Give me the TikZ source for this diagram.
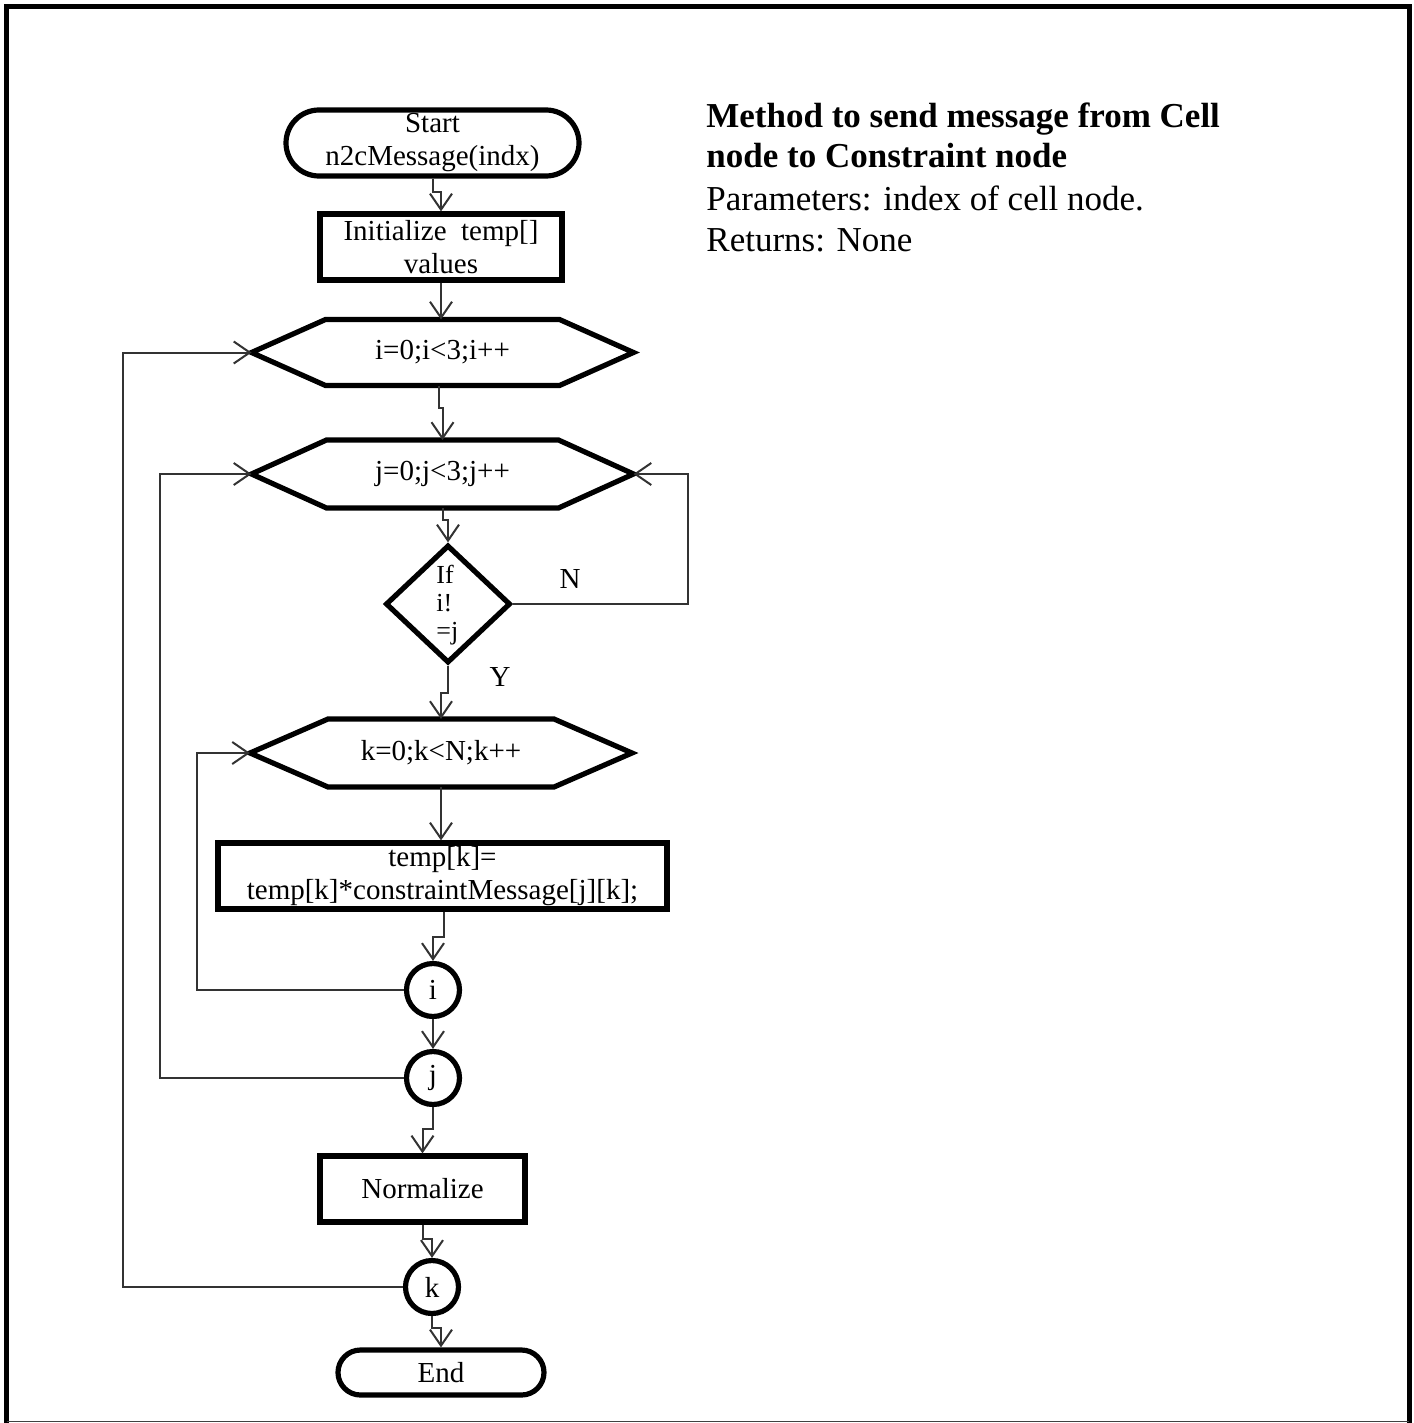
\documentclass[tikz,border=0pt]{standalone}
\usepackage{fontspec}
\setmainfont{Liberation Serif}
\usetikzlibrary{arrows.meta,shapes.misc,shapes.geometric,calc}
\begin{document}
\begin{tikzpicture}[x=0.5pt,y=-0.5pt,
  every node/.style={font=\fontsize{14.5}{16.5}\selectfont},
  outline/.style={draw=black, line width=2.6pt},
  terminal/.style={outline, rounded rectangle, inner sep=0pt, align=center},
  procbox/.style={outline, rectangle, inner sep=0pt, align=center},
  loopframe/.style={rectangle, draw=none, inner sep=0pt, outer sep=0pt, minimum width=191pt},
  joint/.style={circle, outline, inner sep=0pt, minimum size=26.5pt},
  flow/.style={draw=black!80, line width=1pt, -{Straight Barb[length=8pt,width=11pt,line width=1pt]}},
  loopedge/.style={outline, line join=miter},
  sidetext/.style={anchor=base west, inner sep=0pt, font=\fontsize{17.5}{20}\selectfont},
]
\useasboundingbox (0,0) rectangle (1413,1423);

% page frame
\draw[line width=2.5pt, line cap=rect] (6.5,1423) -- (6.5,6.5) -- (1409,6.5) -- (1409,1423);
\draw[line width=0.8pt, black!75] (6.5,1421.5) -- (1409,1421.5);

% description
\node[sidetext, font=\fontsize{17.5}{20}\selectfont\bfseries] (t1) at (706,128) {Method to send message from Cell};
\node[sidetext, font=\fontsize{17.5}{20}\selectfont\bfseries] (t2) at (706,168) {node to Constraint node};
\node[sidetext] (t3) at (706,211) {Parameters: index of cell node.};
\node[sidetext] (t4) at (706,251) {Returns: None};

% flowchart nodes
\node[terminal, minimum width=146.5pt, minimum height=33pt] (start) at (432.5,143) {Start\\n2cMessage(indx)};
\node[procbox, minimum width=121pt, minimum height=33pt] (init) at (441,247) {Initialize\ \ temp[]\\values};
\node[loopframe, minimum height=33pt] (hi) at (442.5,352.5) {i=0;i<3;i++};
\node[loopframe, minimum height=34pt] (hj) at (442.5,474) {j=0;j<3;j++};
\node[diamond, outline, inner sep=0pt, minimum width=62.5pt, minimum height=59pt] (dia) at (448,604) {};
\node[align=left, anchor=west, inner sep=0pt, font=\fontsize{13}{14}\selectfont] (ifx) at (436,605) {If\\i!\\=j};
\node[loopframe, minimum height=34pt] (hk) at (441,753) {k=0;k<N;k++};
\node[procbox, minimum width=224.5pt, minimum height=33pt] (upd) at (442.5,876) {temp[k]=\\temp[k]*constraintMessage[j][k];};
\node[joint] (ci) at (433,990) {i};
\node[joint] (cj) at (433,1078) {j};
\node[procbox, minimum width=102.5pt, minimum height=33pt] (norm) at (422.5,1189) {Normalize};
\node[joint] (ck) at (432,1287) {k};
\node[terminal, minimum width=103pt, minimum height=22.5pt] (finish) at (441,1372.5) {End};

% loop hexagons
\foreach \h/\c in {hi/74, hj/75, hk/78}
  \draw[loopedge] (\h.west) -- ($(\h.north west)+(\c,0)$) -- ($(\h.north east)+(-\c,0)$)
    -- (\h.east) -- ($(\h.south east)+(-\c,0)$) -- ($(\h.south west)+(\c,0)$) -- cycle;

% branch labels
\node (lblN) at (570,579) {N};
\node (lblY) at (500,677) {Y};

% connectors
\draw[flow] (start.south) -- ++(0,13) -| (init.north);
\draw[flow] (init.south) -- (init.south |- hi.north);
\draw[flow] ([xshift=-2pt]hi.south) -- ++(0,22) -| (hj.north);
\draw[flow] (hj.south) -- ++(0,12) -| (dia.north);
\draw[flow] (dia.east) -- ++(175,0) |- (hj.east);
\draw[flow] (dia.south) -- ++(0,27) -| (hk.north);
\draw[flow] (hk.south) -- (hk.south |- upd.north);
\draw[flow] ([xshift=0.5pt]upd.south) -- ++(0,25) -| (ci.north);
\draw[flow] (ci.west) -- ++(-207,0) |- (hk.west);
\draw[flow] (ci.south) -- (cj.north);
\draw[flow] (cj.west) -- ++(-244,0) |- (hj.west);
\draw[flow] (cj.south) -- ++(0,22) -| (norm.north);
\draw[flow] (norm.south) -- ++(0,14) -| (ck.north);
\draw[flow] (ck.west) -- ++(-280,0) |- (hi.west);
\draw[flow] (ck.south) -- ++(0,12) -| (finish.north);
\end{tikzpicture}
\end{document}
